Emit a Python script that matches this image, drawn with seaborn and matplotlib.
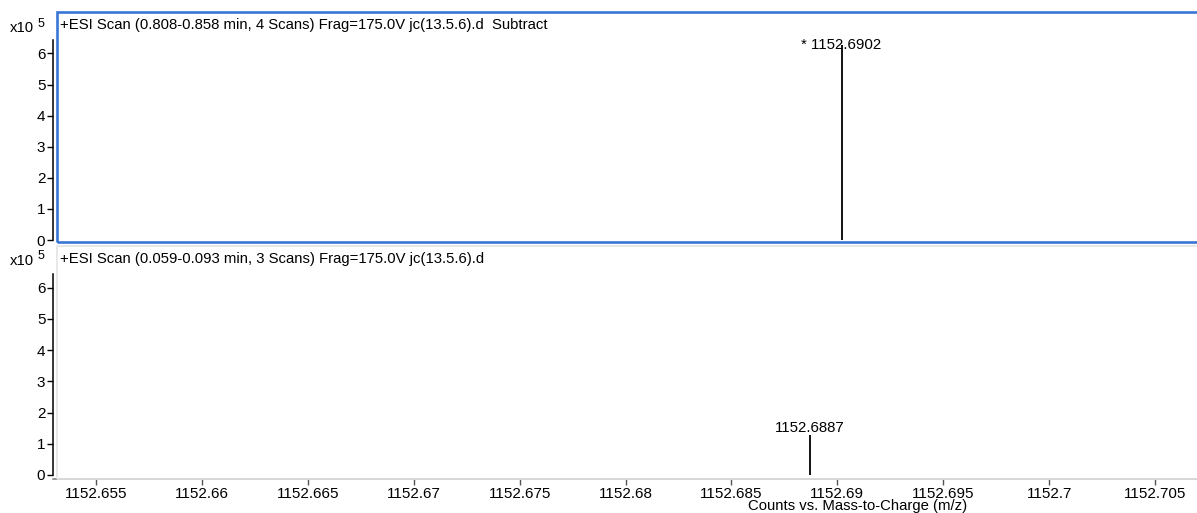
import matplotlib
matplotlib.use("Agg")
import matplotlib.pyplot as plt
import seaborn as sns
from matplotlib.patches import Rectangle

# Spectrum data: one centroid peak per scan
scan_titles = [
    "+ESI Scan (0.808-0.858 min, 4 Scans) Frag=175.0V jc(13.5.6).d  Subtract",
    "+ESI Scan (0.059-0.093 min, 3 Scans) Frag=175.0V jc(13.5.6).d",
]
peak_mz = [1152.6902, 1152.6887]
peak_counts = [6.26e5, 1.28e5]
peak_labels = ["* 1152.6902", "1152.6887"]

x_ticks = [1152.655, 1152.66, 1152.665, 1152.67, 1152.675, 1152.68,
           1152.685, 1152.69, 1152.695, 1152.7, 1152.705]
x_tick_labels = ["1152.655", "1152.66", "1152.665", "1152.67", "1152.675",
                 "1152.68", "1152.685", "1152.69", "1152.695", "1152.7",
                 "1152.705"]
y_ticks = [0, 1, 2, 3, 4, 5, 6]
scale_exp = 5
x_label = "Counts vs. Mass-to-Charge (m/z)"

sns.set_theme(style="ticks")
plt.rcParams["font.family"] = ["Liberation Sans", "DejaVu Sans"]

W, H = 1197, 513
fig = plt.figure(figsize=(W / 100, H / 100), dpi=100)
fig.patch.set_facecolor("white")


def px_axes(left, top, right, bottom):
    return fig.add_axes([left / W, 1 - bottom / H, (right - left) / W, (bottom - top) / H])


def fig_px(x, y):
    return x / W, 1 - y / H


XLIM = (1152.65297, 1152.70698)
YLIM = (0, 6.45)
scale = 10 ** scale_exp

# panel frames: selected (blue) top pane, plain grey bottom pane
fig.patches.append(Rectangle(fig_px(56.5, 242), (1210 - 56.5) / W, (242 - 12) / H,
                             transform=fig.transFigure, fill=False,
                             edgecolor="#3a76d6", linewidth=1.9, zorder=0))
fig.patches.append(Rectangle(fig_px(56.5, 478.5), (1210 - 56.5) / W, (478.5 - 246) / H,
                             transform=fig.transFigure, fill=False,
                             edgecolor="#e4e4e4", linewidth=1.2, zorder=0))

axes = [px_axes(53, 39.5, 1197, 240), px_axes(53, 273.5, 1197, 475)]
title_y = [25.5, 259.5]
exp_y = [32, 265]
sup_y = [27, 259]

for i, ax in enumerate(axes):
    ax.set_facecolor("none")
    ax.vlines(peak_mz[i], 0, peak_counts[i] / scale, color="black", linewidth=1.3)
    ax.annotate(peak_labels[i], (peak_mz[i], peak_counts[i] / scale),
                xytext=(0, 3 if i == 1 else -4), textcoords="offset pixels",
                ha="center", va="baseline", fontsize=10.8, color="black")
    ax.set_xlim(*XLIM)
    ax.set_ylim(*YLIM)
    ax.set_yticks(y_ticks)
    ax.set_yticklabels([str(v) for v in y_ticks])
    ax.tick_params(axis="y", direction="out", length=4, width=1, color="black",
                   labelsize=11, pad=1.5, labelcolor="black")
    sns.despine(ax=ax, top=True, right=True, bottom=(i == 0))
    ax.spines["left"].set_color("black")
    ax.spines["left"].set_linewidth(1.1)

    # panel title and axis scale factor
    tx, ty = fig_px(60, title_y[i])
    fig.text(tx, ty, scan_titles[i], ha="left", va="center", fontsize=10.7, color="black")
    ex, ey = fig_px(10, exp_y[i])
    fig.text(ex, ey, "x10", ha="left", va="baseline", fontsize=10.7, color="black")
    sx, sy = fig_px(38, sup_y[i])
    fig.text(sx, sy, str(scale_exp), ha="left", va="baseline", fontsize=9, color="black")

top_ax, bot_ax = axes
top_ax.set_xticks([])

bot_ax.set_xticks(x_ticks)
bot_ax.set_xticklabels(x_tick_labels)
bot_ax.spines["bottom"].set_position(("outward", 3))
bot_ax.spines["bottom"].set_color("#7a7a7a")
bot_ax.spines["bottom"].set_linewidth(1.1)
bot_ax.tick_params(axis="x", direction="out", length=4, width=1, color="#555555",
                   labelsize=11, pad=1.5, labelcolor="black")

lx, ly = fig_px(858, 506)
fig.text(lx, ly, x_label, ha="center", va="center", fontsize=10.7, color="black")

fig.savefig("out.png", dpi=100, facecolor="white")
